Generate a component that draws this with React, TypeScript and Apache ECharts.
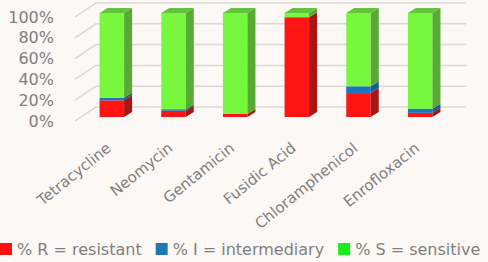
import React, { useEffect, useRef } from 'react';
import * as echarts from 'echarts';

const categories = ['Tetracycline', 'Neomycin', 'Gentamicin', 'Fusidic Acid', 'Chloramphenicol', 'Enrofloxacin'];
const resistant = [16, 6, 3, 96, 23, 4];
const intermediary = [2.5, 1.5, 0, 0, 6.5, 4];
const sensitive = [81.5, 92.5, 97, 4, 70.5, 92];
const yTicks = [0, 20, 40, 60, 80, 100];
const seriesNames = ['% R = resistant', '% I = intermediary', '% S = sensitive'];

const FONT = 'DejaVu Sans';
const TEXT = '#7f7f7f';

const faces = [
  { legend: '#ff1010', front: '#ff1414', side: '#a81515', top: '#d01212' },
  { legend: '#1f77b4', front: '#1c75bc', side: '#165d96', top: '#1a6aa8' },
  { legend: '#19ee19', front: '#78f83d', side: '#57ab33', top: '#63c33c' },
];

const BAR_W = 24.5;
const SHIFT_X = 3;
const SHIFT_Y = -4;
const DX = 8;
const DY = -5;
const GRID_X0 = -3;
const GDX = 21;
const GDY = -14;

export default function App() {
  const ref = useRef<HTMLDivElement>(null);
  useEffect(() => {
    if (!ref.current) return;
    const chart = echarts.init(ref.current, null, { renderer: 'svg' });
    const stacks = [resistant, intermediary, sensitive];
    const segData = stacks.map((arr, si) =>
      arr.map((v, i) => {
        let start = 0;
        for (let k = 0; k < si; k++) start += stacks[k][i];
        let topIdx = 0;
        for (let k = 0; k < 3; k++) if (stacks[k][i] > 0) topIdx = k;
        return [i, start, start + v, topIdx === si ? 1 : 0];
      })
    );

    const barSeries = segData.map((data, si) => ({
      type: 'custom',
      name: seriesNames[si],
      itemStyle: { color: faces[si].legend },
      z: 3,
      clip: false,
      encode: { x: 0, y: [1, 2] },
      data,
      renderItem: (params: any, api: any) => {
        const c = api.value(0);
        const s = api.value(1);
        const e = api.value(2);
        const isTop = api.value(3);
        if (e - s <= 0) return { type: 'group', children: [] };
        const p0 = api.coord([c, s]);
        const p1 = api.coord([c, e]);
        const cx = p0[0] + SHIFT_X;
        const yb = p0[1] + SHIFT_Y;
        const yt = p1[1] + SHIFT_Y;
        const l = cx - BAR_W / 2;
        const r = cx + BAR_W / 2;
        const f = faces[si];
        const children: any[] = [
          { type: 'rect', shape: { x: l, y: yt, width: BAR_W, height: yb - yt }, style: { fill: f.front } },
          {
            type: 'polygon',
            shape: { points: [[r, yt], [r + DX, yt + DY], [r + DX, yb + DY], [r, yb]] },
            style: { fill: f.side },
          },
        ];
        if (isTop) {
          children.push({
            type: 'polygon',
            shape: { points: [[l, yt], [l + DX, yt + DY], [r + DX, yt + DY], [r, yt]] },
            style: { fill: f.top },
          });
        }
        return { type: 'group', children };
      },
    }));

    const gridSeries = {
      type: 'custom',
      silent: true,
      z: 1,
      clip: false,
      encode: { x: 0, y: 1 },
      data: yTicks.map((v) => [0, v]),
      renderItem: (params: any, api: any) => {
        const cs = params.coordSys;
        const y = api.coord([0, api.value(1)])[1];
        const x0 = cs.x + GRID_X0;
        return {
          type: 'polyline',
          shape: {
            points: [
              [x0, y],
              [x0 + GDX, y + GDY],
              [x0 + cs.width + GDX, y + GDY],
            ],
          },
          style: { stroke: '#dcd7d3', lineWidth: 1.5, fill: null },
        };
      },
    };

    chart.setOption({
      animation: false,
      backgroundColor: '#fcf8f5',
      textStyle: { fontFamily: FONT },
      grid: { left: 78, top: 17, width: 370, height: 104, containLabel: false },
      legend: {
        left: 0,
        top: 241,
        padding: 0,
        itemWidth: 12,
        itemHeight: 12,
        itemGap: 14,
        icon: 'rect',
        data: seriesNames,
        textStyle: { color: TEXT, fontSize: 16, fontFamily: FONT },
      },
      xAxis: {
        type: 'category',
        data: categories,
        axisLine: { show: false },
        axisTick: { show: false },
        splitLine: { show: false },
        axisLabel: { rotate: 39, margin: 25, color: TEXT, fontSize: 15, fontFamily: FONT, interval: 0 },
      },
      yAxis: {
        type: 'value',
        min: 0,
        max: 100,
        interval: 20,
        axisLine: { show: false },
        axisTick: { show: false },
        splitLine: { show: false },
        axisLabel: {
          formatter: '{value}%',
          margin: 24,
          color: TEXT,
          fontSize: 16,
          fontFamily: FONT,
          padding: [6, 0, 0, 0],
        },
      },
      series: [gridSeries, ...barSeries],
    });
    return () => chart.dispose();
  }, []);
  return <div ref={ref} style={{ position: 'absolute', left: 0, top: 0, width: 488, height: 262 }} />;
}
